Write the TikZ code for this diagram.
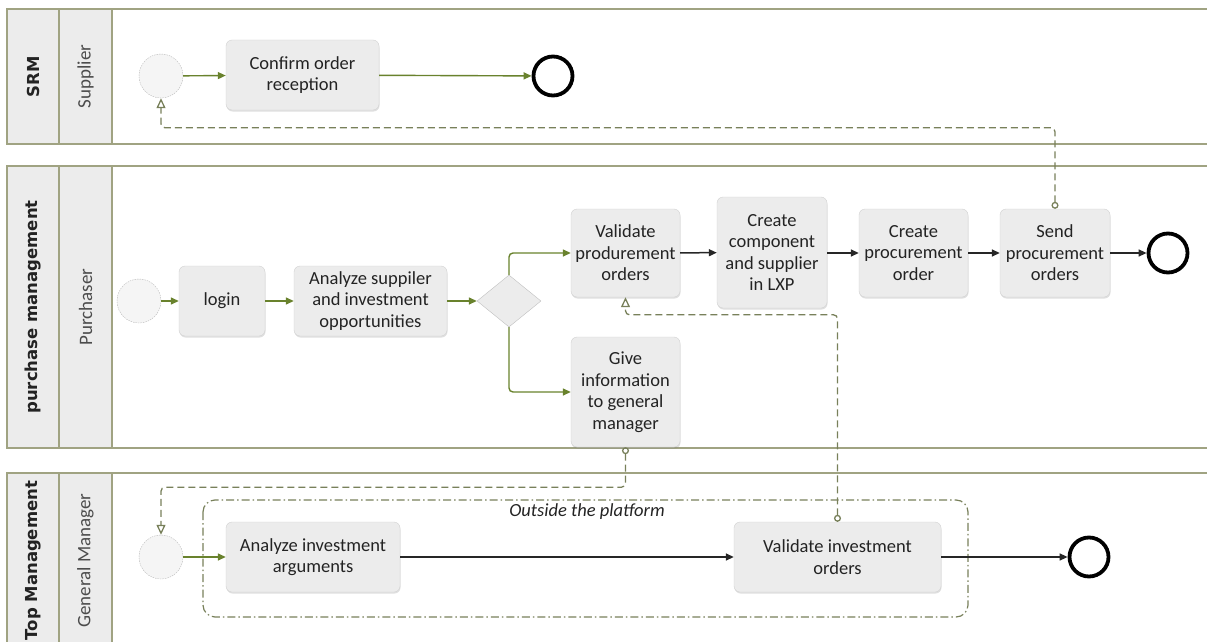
\documentclass[tikz,border=0pt]{standalone}
\usepackage{fontspec}
\setmainfont{Carlito}
\newfontfamily\headfont{DejaVu Sans}
\usepackage{tikz}
\usetikzlibrary{positioning,shapes,shadows,arrows.meta,calc}

\definecolor{poolline}{RGB}{160,163,130}
\definecolor{headfill}{RGB}{236,236,236}
\definecolor{taskfill}{RGB}{236,236,236}
\definecolor{taskline}{RGB}{210,210,210}
\definecolor{seqgreen}{RGB}{105,130,45}
\definecolor{msgline}{RGB}{120,128,90}
\definecolor{txt}{RGB}{35,35,35}

\begin{document}
\begin{tikzpicture}[x=1pt,y=-1pt,
		pool/.style={draw=poolline, line width=1.5pt},
		header/.style={draw=poolline, line width=1.5pt, fill=headfill},
		poolname/.style={rotate=90, text=txt, font=\headfont\bfseries\fontsize{16.5}{18}\selectfont},
		lanename/.style={rotate=90, text=black!70, font=\fontsize{19}{20}\selectfont},
		task/.style={rectangle, rounded corners=6pt, draw=taskline, fill=taskfill, text=txt,
			align=center, inner sep=1pt, font=\fontsize{18.5}{21.5}\selectfont,
			drop shadow={shadow xshift=0.5pt, shadow yshift=-1.5pt, opacity=0.25}},
		startev/.style={circle, minimum size=44pt, inner sep=0pt, draw=gray!55,
			dash pattern=on 1.5pt off 1pt, fill=gray!8},
		endev/.style={circle, minimum size=39pt, inner sep=0pt, draw=black, line width=3.8pt, fill=white},
		gateway/.style={diamond, aspect=1.23, minimum width=64pt, minimum height=52pt,
			inner sep=0pt, draw=gray!50, fill=taskfill},
		flowg/.style={draw=seqgreen, line width=1.4pt, rounded corners=4pt,
			-{Triangle[length=8pt,width=7pt]}},
		flowk/.style={draw=black!85, line width=1.5pt, -{Triangle[length=8pt,width=7pt]}},
		msg/.style={draw=msgline, line width=1.3pt, dash pattern=on 7pt off 4pt, rounded corners=4pt,
			{Circle[open,length=7pt,width=7pt]}-{Triangle[open,length=10pt,width=9pt]}}]
	\useasboundingbox (0,0) rectangle (1207,642);

	% pools and lanes
	\foreach \t/\b/\p/\l [count=\i] in {9/144/SRM/Supplier,
			166/448/purchase management/Purchaser,
			473/648/Top Management/General Manager}{
		\draw[pool] (7,\t) rectangle (1215,\b);
		\draw[header] (7,\t) rectangle (59,\b);
		\draw[header] (59,\t) rectangle (112,\b);
		\node[poolname] (pool\i) at (33,{(\t+\b)/2}) {\p};
		\node[lanename] (lane\i) at (85.5,{(\t+\b)/2}) {\l};
	}

	% group outside the platform
	\draw[draw=msgline, line width=1.2pt, rounded corners=12pt,
		dash pattern=on 8pt off 3pt on 1.5pt off 3pt] (203,500) rectangle (968,617);
	\node[font=\itshape\fontsize{18.5}{20}\selectfont, text=txt] (outside) at (587,512) {Outside the platform};

	% SRM
	\node[startev] (srmstart) at (161,76) {};
	\node[task, minimum width=153pt, minimum height=70pt] (confirm) at (302.5,75) {Confirm order\\reception};
	\node[endev] (srmend) at (553,76) {};

	% purchase management
	\node[startev] (purstart) at (139,301) {};
	\node[task, minimum width=86pt, minimum height=70pt] (login) at (222,301) {login};
	\node[task, minimum width=153pt, minimum height=70pt] (analyze) at (370.5,301)
		{Analyze suppiler\\and investment\\opportunities};
	\node[gateway] (gate) at (509,301) {};
	\node[task, minimum width=109pt, minimum height=88pt] (validate) at (625.5,253)
		{Validate\\produrement\\orders};
	\node[task, minimum width=109pt, minimum height=110pt] (giveinfo) at (625.5,392)
		{Give\\information\\to general\\manager};
	\node[task, minimum width=110pt, minimum height=111pt] (component) at (772,252.5)
		{Create\\component\\and supplier\\in LXP};
	\node[task, minimum width=109pt, minimum height=88pt] (procure) at (913.5,253)
		{Create\\procurement\\order};
	\node[task, minimum width=110pt, minimum height=88pt] (send) at (1055,253)
		{Send\\procurement\\orders};
	\node[endev] (purend) at (1168,253) {};

	% top management
	\node[startev] (gmstart) at (161,557) {};
	\node[task, minimum width=174pt, minimum height=70pt] (analyzeinv) at (313,557)
		{Analyze investment\\arguments};
	\node[task, minimum width=207pt, minimum height=70pt] (validateinv) at (837.5,557)
		{Validate investment\\orders};
	\node[endev] (gmend) at (1089,557) {};

	% sequence flows
	\draw[flowg] (srmstart) -- (confirm);
	\draw[flowg] (confirm) -- (srmend);
	\draw[flowg] (purstart) -- (login);
	\draw[flowg] (login) -- (analyze);
	\draw[flowg] (analyze) -- (gate);
	\draw[flowg] (gate.north) |- (validate);
	\draw[flowg] (gate.south) |- (giveinfo);
	\draw[flowk] (validate) -- (component);
	\draw[flowk] (component.east |- procure) -- (procure);
	\draw[flowk] (procure) -- (send);
	\draw[flowk] (send) -- (purend);
	\draw[flowg] (gmstart) -- (analyzeinv);
	\draw[flowk] (analyzeinv) -- (validateinv);
	\draw[flowk] (validateinv) -- (gmend);

	% message flows
	\draw[msg] (send.north) -- ++(0,-81) -| (srmstart.south);
	\draw[msg] (validateinv.north) -- ++(0,-207) -| (validate.south);
	\draw[msg] (giveinfo.south) -- ++(0,40) -| (gmstart.north);
\end{tikzpicture}
\end{document}
